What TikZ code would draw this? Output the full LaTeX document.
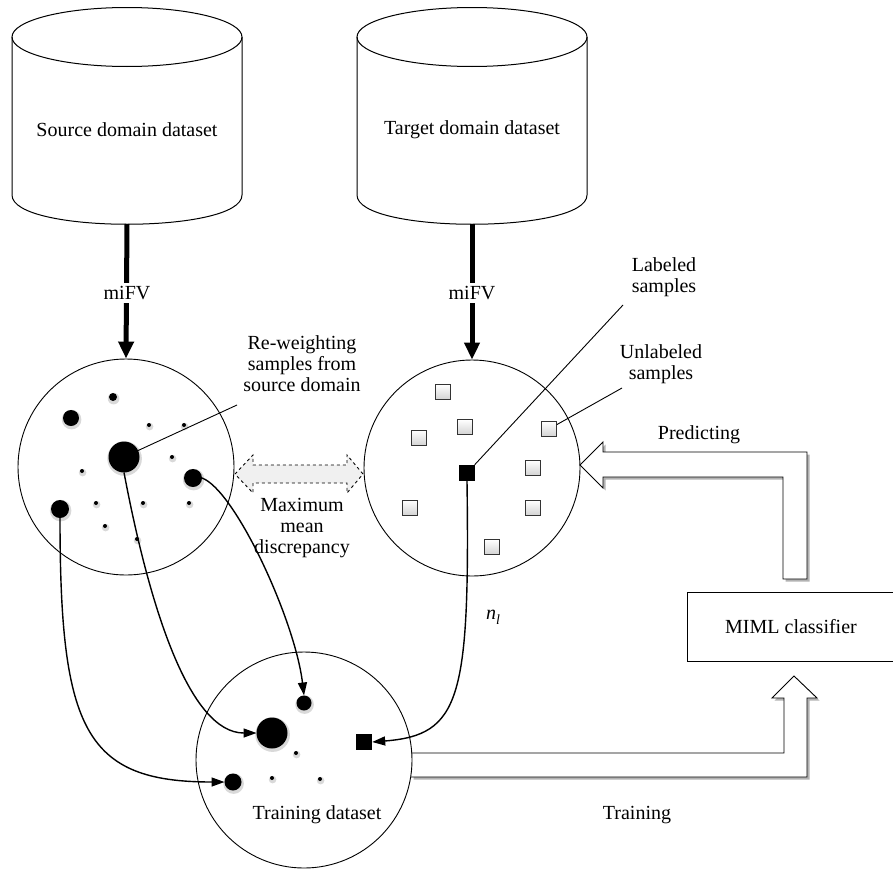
\documentclass[tikz,border=0pt]{standalone}
\usepackage{fontspec}
\setmainfont{Liberation Serif}
\usetikzlibrary{arrows.meta,shapes.geometric}
\tikzset{
  txt/.style={font=\fontsize{20}{21}\selectfont, align=center, inner sep=1pt},
  ring/.style={draw, circle, line width=0.9pt, minimum size=216pt, inner sep=0pt},
  blobdot/.style={circle, fill=black, inner sep=0pt, outer sep=0pt},
  sq/.style={draw=black!80, line width=0.8pt, minimum size=15pt, inner sep=0pt, top color=white, bottom color=gray!35},
  sqfull/.style={fill=black, minimum size=16pt, inner sep=0pt},
  fatarrow/.style={line width=5pt, -{Triangle[length=17pt,width=15pt]}},
  curv/.style={line width=1.4pt, -{Triangle[length=13pt,width=9pt]}},
  thinline/.style={line width=0.9pt},
  cyl/.style={line width=1pt},
}
\newcommand\mkdot[4]{%
  \fill[gray!30] ({#2+0.6},{#3+1.6}) circle ({#4+1.8});
  \node[blobdot, minimum size={2*#4pt}] (#1) at (#2,#3) {};}
\begin{document}
\begin{tikzpicture}[x=1pt,y=-1pt]
\useasboundingbox (0,0) rectangle (893,870);

% ---------- cylinders ----------
\draw[cyl] (127,37) ellipse [x radius=115, y radius=29.5];
\draw[cyl] (12,37) -- (12,195) .. controls (12,234) and (242,234) .. (242,195) -- (242,37);
\draw[cyl] (472,37) ellipse [x radius=115, y radius=29.5];
\draw[cyl] (357,37) -- (357,195) .. controls (357,234) and (587,234) .. (587,195) -- (587,37);
\node[txt] (srcdb) at (127,130) {Source domain dataset};
\node[txt] (tgtdb) at (472,130) {Target domain dataset};
\coordinate (sBot) at (127,224);
\coordinate (tBot) at (472,224);

% ---------- circles ----------
\node[ring] (cS) at (126,467) {};
\node[ring] (cT) at (472,468) {};

% ---------- block arrows (drawn shapes) ----------
% Predicting
\fill[gray!60, shift={(2.5,2.5)}] (580,465) -- (603,442) -- (603,452) -- (807,452) -- (807,579) -- (783,579) -- (783,477) -- (603,477) -- (603,488) -- cycle;
\filldraw[fill=white, line width=0.9pt] (580,465) -- (603,442) -- (603,452) -- (807,452) -- (807,579) -- (783,579) -- (783,477) -- (603,477) -- (603,488) -- cycle;
% Training
\fill[gray!60, shift={(2.5,2.5)}] (411,753) -- (784,753) -- (784,698) -- (772,698) -- (794,676) -- (817,698) -- (807,698) -- (807,777) -- (411,777) -- cycle;
\fill[white] (411,753) -- (784,753) -- (784,698) -- (772,698) -- (794,676) -- (817,698) -- (807,698) -- (807,777) -- (411,777) -- cycle;
\draw[line width=0.9pt] (411,753) -- (784,753) -- (784,698) -- (772,698) -- (794,676) -- (817,698) -- (807,698) -- (807,777) -- (411,777);

\node[ring] (cTr) at (304,760) {};

% dashed double arrow (maximum mean discrepancy)
\filldraw[fill=gray!12, dashed, line width=0.9pt] (235,474) -- (253,455) -- (253,465) -- (347,465) -- (347,455) -- (363,474) -- (347,493) -- (347,483) -- (253,483) -- (253,493) -- cycle;

% MIML classifier
\node[draw, line width=0.9pt, minimum width=208pt, minimum height=69pt, font=\fontsize{20}{21}\selectfont] (miml) at (791,626.5) {MIML classifier};

% ---------- source samples ----------
\mkdot{d1}{113}{397}{4}
\mkdot{d2}{71}{418}{8}
\mkdot{d3}{149}{425}{2}
\mkdot{d4}{184}{425}{2}
\mkdot{dB}{124}{457}{15.5}
\mkdot{d6}{172}{457}{2}
\mkdot{d7}{82}{471}{2}
\mkdot{dM}{193}{478}{9}
\mkdot{dL}{60}{509}{9}
\mkdot{d10}{96}{503}{2}
\mkdot{d11}{143}{503}{2}
\mkdot{d12}{189}{503}{2}
\mkdot{d13}{105}{526}{2}
\mkdot{d14}{137}{539}{2}

% ---------- target samples ----------
\node[sq] (q1) at (443,392) {};
\node[sq] (q2) at (465,427) {};
\node[sq] (q3) at (419,438) {};
\node[sq] (q4) at (549,429) {};
\node[sqfull] (qL) at (467,473) {};
\node[sq] (q5) at (533,468) {};
\node[sq] (q6) at (410,508) {};
\node[sq] (q7) at (533,508) {};
\node[sq] (q8) at (492,547) {};

% ---------- training samples ----------
\mkdot{t1}{304}{703}{7.5}
\mkdot{t2}{272}{733}{15.5}
\mkdot{t3}{296}{753}{2}
\mkdot{t4}{233}{782}{8.5}
\mkdot{t5}{272}{778}{2}
\mkdot{t6}{320}{779}{2}
\node[sqfull] (tq) at (364,742) {};

% ---------- labels ----------
\node[txt] (rw) at (302,364) {Re-weighting\\samples from\\source domain};
\node[txt] (mmd) at (302,528) {Maximum\\mean\\discrepancy};
\node[txt] (lab) at (664,277) {Labeled\\samples};
\node[txt] (unl) at (661,364) {Unlabeled\\samples};
\node[txt] (pred) at (699,435) {Predicting};
\node[txt] (train) at (637,815) {Training};
\node[txt] (trds) at (317,815) {Training dataset};
\node[font=\fontsize{20}{21}\selectfont, inner sep=0pt] (nl) at (493,617) {\itshape n\raisebox{-5pt}{\fontsize{14}{14}\selectfont l}};

\coordinate (rwEnd) at (237,405);
\coordinate (labEnd) at (623,305);
\coordinate (unlEnd) at (622,388);
\draw[thinline] (dB) -- (rwEnd);
\draw[thinline] (qL) -- (labEnd);
\draw[thinline] (q4) -- (unlEnd);

% ---------- thick miFV arrows ----------
\draw[fatarrow] (sBot) -- (cS.north);
\draw[fatarrow] (tBot) -- (cT.north);
\node[txt, fill=white, inner sep=3pt] (mi1) at (127,293) {miFV};
\node[txt, fill=white, inner sep=3pt] (mi2) at (472,293) {miFV};

% ---------- curved arrows ----------
\draw[curv] (dL.south) .. controls (60,730) and (85,782) .. (t4.west);
\draw[curv] (dB.south) .. controls (150,610) and (190,733) .. (t2.west);
\draw[curv] (dM.east) .. controls (235,490) and (295,620) .. (t1.north);
\draw[curv] (qL.south) .. controls (470,700) and (460,735) .. (tq.east);
\end{tikzpicture}
\end{document}
